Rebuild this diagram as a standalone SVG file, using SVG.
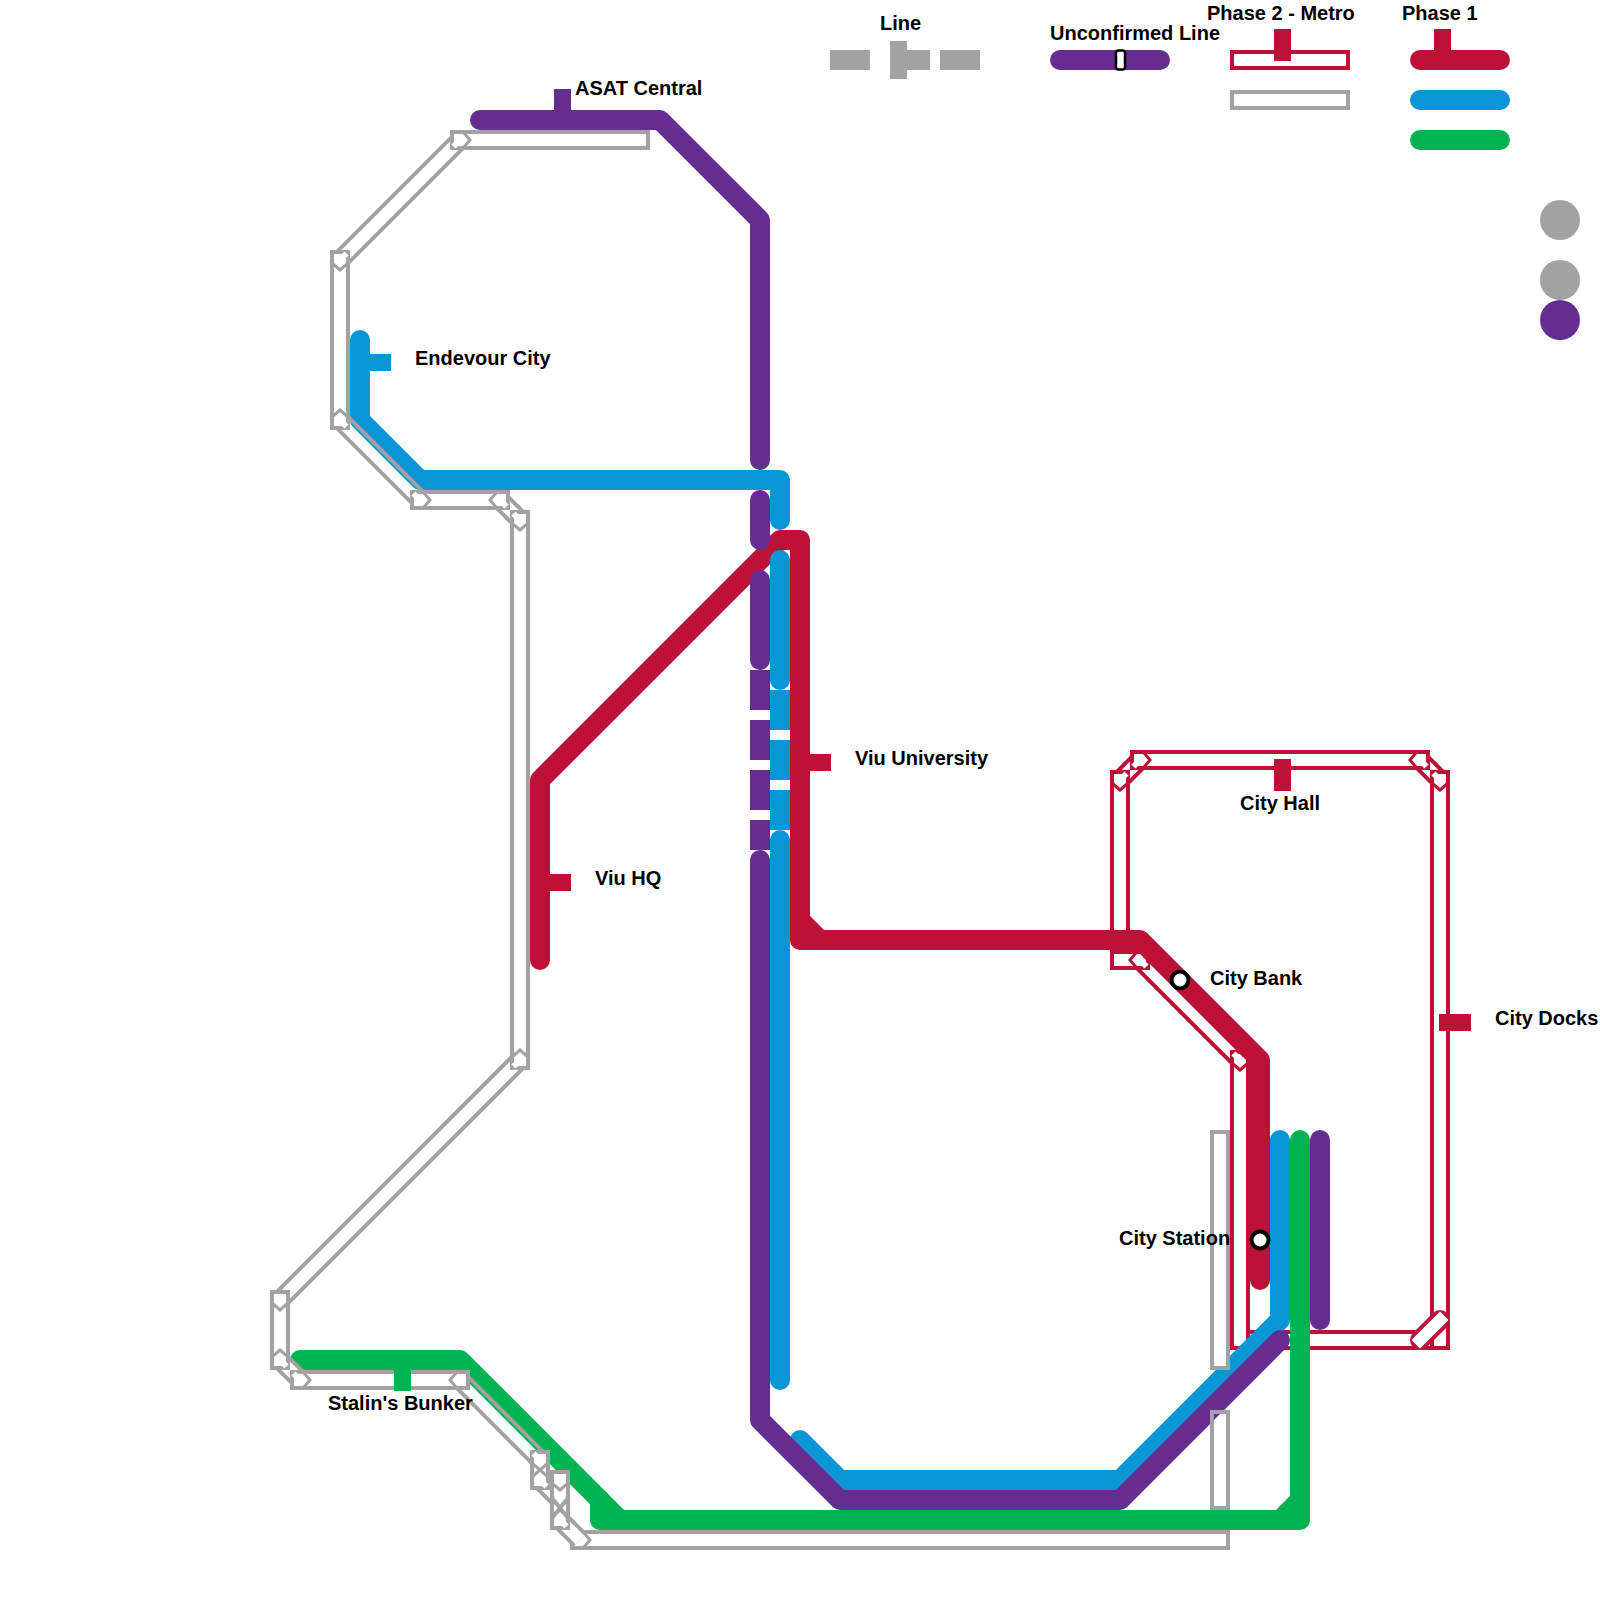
<svg xmlns="http://www.w3.org/2000/svg" width="1600" height="1600" viewBox="0 0 1600 1600">
<style>
text{font-family:"Liberation Sans",Arial,sans-serif;font-weight:bold;font-size:20px;fill:#000}
.l{fill:none;stroke-width:20;stroke-linecap:round;stroke-linejoin:round}
.d{fill:none;stroke-width:20;stroke-linecap:butt}
.pu{stroke:#662d91}.bl{stroke:#0896d7}.re{stroke:#bc1238}.gr{stroke:#00b251}
.hg,.hr{fill:none;stroke-width:20;stroke-linecap:square}
.hg{stroke:#a2a2a2}.hr{stroke:#bc1238}
.hdg,.hdr{fill:none;stroke-width:20;stroke-linecap:butt}
.hdg{stroke:#a2a2a2}.hdr{stroke:#bc1238}
.w{fill:none;stroke:#fff;stroke-width:12;stroke-linecap:square}
.wb{fill:none;stroke:#fff;stroke-width:12;stroke-linecap:butt}
.n{fill:none;stroke:#fff;stroke-width:6;stroke-linecap:butt}
.sg{fill:none;stroke:#a2a2a2;stroke-width:4}
.chg,.chr{fill:none;stroke-width:3}
.chg{stroke:#a2a2a2}.chr{stroke:#bc1238}
.c{fill:#fff;stroke:#000;stroke-width:4}
.tp{fill:#662d91}.tb{fill:#0896d7}.tr{fill:#bc1238}.tg{fill:#00b251}
</style>
<defs>
<path id="a1" d="M460,140H640"/><path id="a2" d="M340,260V420"/><path id="a3" d="M420,500H500"/><path id="a4" d="M520,520V1060"/><path id="a5" d="M280,1300V1360"/><path id="a6" d="M300,1380H460"/><path id="a7" d="M580,1540H1220"/>
<path id="a8" d="M1220,1140V1360"/><path id="a9" d="M1220,1420V1500"/>
<path id="a10" d="M540,1460V1480"/><path id="a11" d="M560,1480V1520"/>
<path id="b1" d="M460,140L340,260"/><path id="b2" d="M340,420L420,500"/><path id="b3" d="M500,500L520,520"/><path id="b4" d="M520,1060L280,1300"/><path id="b5" d="M280,1360L300,1380"/><path id="b6" d="M460,1380L540,1460"/><path id="b7" d="M540,1480L560,1500"/><path id="b8" d="M560,1520L580,1540"/>
<path id="r1" d="M1120,780V960"/><path id="r2" d="M1140,760H1420"/><path id="r3" d="M1240,1340H1440"/><path id="r4" d="M1440,780V1340"/><path id="r5" d="M1120,960H1140"/><path id="r6" d="M1240,1060V1340"/>
<path id="s1" d="M1120,780L1140,760"/><path id="s2" d="M1420,760L1440,780"/><path id="s3" d="M1140,960L1240,1060"/><path id="s4" d="M1420,1340L1440,1320"/>
<path id="cr" d="M4,-7L10,0L4,7"/><path id="cl" d="M-4,-7L-10,0L-4,7"/><path id="cd" d="M-7,4L0,10L7,4"/><path id="cu" d="M-7,-4L0,-10L7,-4"/>
<path id="ne" d="M0,0L6.5,-6.5"/><path id="nw" d="M0,0L-6.5,-6.5"/><path id="se" d="M0,0L6.5,6.5"/><path id="sw" d="M0,0L-6.5,6.5"/>
</defs>
<g id="connectors">
<g id="metro-grey-base">
<use href="#b1" class="hdg"/><use href="#b1" class="wb"/>
<use href="#b2" class="hdg"/><use href="#b2" class="wb"/>
<use href="#b3" class="hdg"/><use href="#b3" class="wb"/>
<use href="#b4" class="hdg"/><use href="#b4" class="wb"/>
<use href="#b6" class="hdg"/><use href="#b6" class="wb"/>
<use href="#a1" class="hg"/><use href="#a1" class="w"/>
<use href="#a2" class="hg"/><use href="#a2" class="w"/>
<use href="#a3" class="hg"/><use href="#a3" class="w"/>
<use href="#a4" class="hg"/><use href="#a4" class="w"/>
<use href="#a5" class="hg"/><use href="#a5" class="w"/>
<use href="#a6" class="hg"/><use href="#a6" class="w"/>
<use href="#a7" class="hg"/><use href="#a7" class="w"/>
<g class="n">
<use href="#sw" x="460" y="140"/><use href="#ne" x="340" y="260"/>
<use href="#se" x="340" y="420"/><use href="#nw" x="420" y="500"/>
<use href="#se" x="500" y="500"/><use href="#nw" x="520" y="520"/>
<use href="#sw" x="520" y="1060"/><use href="#ne" x="280" y="1300"/>
<use href="#se" x="460" y="1380"/>
<use href="#nw" x="580" y="1540"/>
</g>
<g class="chg">
<use href="#cr" x="460" y="140"/><use href="#cd" x="340" y="260"/>
<use href="#cu" x="340" y="420"/><use href="#cr" x="420" y="500"/>
<use href="#cl" x="500" y="500"/><use href="#cd" x="520" y="520"/>
<use href="#cu" x="520" y="1060"/><use href="#cd" x="280" y="1300"/>
<use href="#cl" x="460" y="1380"/>
<use href="#cr" x="580" y="1540"/>
</g>
</g>
<g id="metro-red">
<use href="#s1" class="hdr"/><use href="#s1" class="wb"/>
<use href="#s2" class="hdr"/><use href="#s2" class="wb"/>
<use href="#s3" class="hdr"/><use href="#s3" class="wb"/>
<use href="#r1" class="hr"/><use href="#r1" class="w"/>
<use href="#r2" class="hr"/><use href="#r2" class="w"/>
<use href="#r3" class="hr"/><use href="#r3" class="w"/>
<use href="#r4" class="hr"/><use href="#r4" class="w"/>
<use href="#r5" class="hr"/><use href="#r5" class="w"/>
<use href="#r6" class="hr"/><use href="#r6" class="w"/>
<g class="n">
<use href="#ne" x="1120" y="780"/><use href="#sw" x="1140" y="760"/>
<use href="#se" x="1420" y="760"/><use href="#nw" x="1440" y="780"/>
<use href="#se" x="1140" y="960"/><use href="#nw" x="1240" y="1060"/>
</g>
<g class="chr">
<use href="#cd" x="1120" y="780"/><use href="#cr" x="1140" y="760"/>
<use href="#cl" x="1420" y="760"/><use href="#cd" x="1440" y="780"/>
<use href="#cl" x="1140" y="960"/><use href="#cd" x="1240" y="1060"/>
</g>
<path class="l re" d="M1420,1340L1440,1320"/>
<use href="#s4" class="w"/>
</g>
<g id="line-red">
<path class="l re" d="M540,960V780L780,540H800V940H1140L1260,1060V1280"/>
<path class="d re" d="M800,920L820,940"/>
</g>
<g id="line-green">
<path class="l gr" d="M300,1360H460L620,1520"/>
<path class="l gr" d="M600,1500V1520H1300V1140"/>
<path class="d gr" d="M1280,1520L1300,1500"/>
</g>
<g id="line-blue">
<path class="l bl" d="M360,340V420L420,480H780V520"/>
<path class="l bl" d="M780,560V680"/>
<path class="d bl" d="M780,690V730M780,740V780M780,790V830"/>
<path class="l bl" d="M780,840V1380"/>
<path class="l bl" d="M800,1440L840,1480H1120L1280,1320V1140"/>
</g>
<g id="line-purple">
<path class="l pu" d="M480,120H660L760,220V460"/>
<path class="l pu" d="M760,500V540"/>
<path class="l pu" d="M760,580V660"/>
<path class="d pu" d="M760,670V710M760,720V760M760,770V810M760,820V850"/>
<path class="l pu" d="M760,860V1420L840,1500H1120L1280,1340"/>
<path class="l pu" d="M1320,1140V1320"/>
</g>
<g id="metro-grey-top">
<use href="#a8" class="hg"/><use href="#a8" class="w"/>
<use href="#a9" class="hg"/><use href="#a9" class="w"/>
<path fill="#662d91" d="M1214,1414H1220L1214,1420Z"/>
<path class="sg" d="M345.66,414.34L425.66,494.34"/>
<path class="sg" d="M465.66,1374.34L545.66,1454.34"/>
<use href="#b5" class="hdg"/><use href="#b5" class="wb"/>
<use href="#b7" class="hdg"/><use href="#b7" class="wb"/>
<use href="#b8" class="hdg"/><use href="#b8" class="wb"/>
<use href="#a6" class="hg"/><use href="#a6" class="w"/>
<use href="#a5" class="hg"/><use href="#a5" class="w"/>
<use href="#a10" class="hg"/><use href="#a10" class="w"/>
<use href="#a11" class="hg"/><use href="#a11" class="w"/>
<path class="sg" d="M552,1498L568,1518M568,1498L552,1518"/>
<g class="n">
<use href="#se" x="280" y="1360"/><use href="#nw" x="300" y="1380"/>
<use href="#nw" x="540" y="1460"/><use href="#se" x="540" y="1480"/>
<use href="#se" x="560" y="1520"/>
</g>
<g class="chg">
<use href="#cd" x="280" y="1300"/><use href="#cu" x="280" y="1360"/><use href="#cr" x="300" y="1380"/><use href="#cl" x="460" y="1380"/>
<use href="#cd" x="540" y="1460"/><use href="#cu" x="540" y="1480"/>
<use href="#cd" x="560" y="1480"/><use href="#cu" x="560" y="1520"/>
</g>
</g>
</g>
<g id="station-asat-central"><rect class="tp" x="554" y="89" width="17" height="25"/><text x="575" y="95">ASAT Central</text></g>
<g id="station-endevour-city"><rect class="tb" x="365" y="354" width="26" height="17"/><text x="415" y="365">Endevour City</text></g>
<g id="station-viu-university"><rect class="tr" x="805" y="754" width="26" height="17"/><text x="855" y="765">Viu University</text></g>
<g id="station-viu-hq"><rect class="tr" x="545" y="874" width="26" height="17"/><text x="595" y="885">Viu HQ</text></g>
<g id="station-city-hall"><rect class="tr" x="1274" y="759" width="17" height="32"/><text x="1240" y="810">City Hall</text></g>
<g id="station-city-bank"><circle class="c" cx="1180" cy="980" r="8.5"/><text x="1210" y="985">City Bank</text></g>
<g id="station-city-docks"><rect class="tr" x="1439" y="1014" width="32" height="17"/><text x="1495" y="1025">City Docks</text></g>
<g id="station-city-station"><circle class="c" cx="1260" cy="1240" r="8.5"/><text x="1119" y="1245">City Station</text></g>
<g id="station-stalins-bunker"><rect class="tg" x="394" y="1365" width="17" height="26"/><text x="328" y="1410">Stalin's Bunker</text></g>
<g id="legend">
<text x="880" y="30">Line</text>
<rect x="830" y="50" width="40" height="20" fill="#a2a2a2"/><rect x="890" y="50" width="40" height="20" fill="#a2a2a2"/><rect x="940" y="50" width="40" height="20" fill="#a2a2a2"/>
<rect x="890" y="41" width="17" height="38" fill="#a2a2a2"/>
<text x="1050" y="40">Unconfirmed Line</text>
<path class="l pu" d="M1060,60H1160"/>
<rect x="1116" y="50.5" width="9" height="19" rx="2.5" fill="#fff" stroke="#000" stroke-width="2.5"/>
<text x="1207" y="20">Phase 2 - Metro</text>
<rect x="1232" y="52" width="116" height="16" fill="#fff" stroke="#bc1238" stroke-width="4"/>
<rect class="tr" x="1274" y="29" width="17" height="32"/>
<rect x="1232" y="92" width="116" height="16" fill="#fff" stroke="#a2a2a2" stroke-width="4"/>
<text x="1402" y="20">Phase 1</text>
<rect class="tr" x="1434" y="29" width="17" height="25"/>
<path class="l re" d="M1420,60H1500"/>
<path class="l bl" d="M1420,100H1500"/>
<path class="l gr" d="M1420,140H1500"/>
<circle cx="1560" cy="220" r="20" fill="#a2a2a2"/>
<circle cx="1560" cy="280" r="20" fill="#a2a2a2"/>
<circle cx="1560" cy="320" r="20" fill="#662d91"/>
</g>
</svg>
